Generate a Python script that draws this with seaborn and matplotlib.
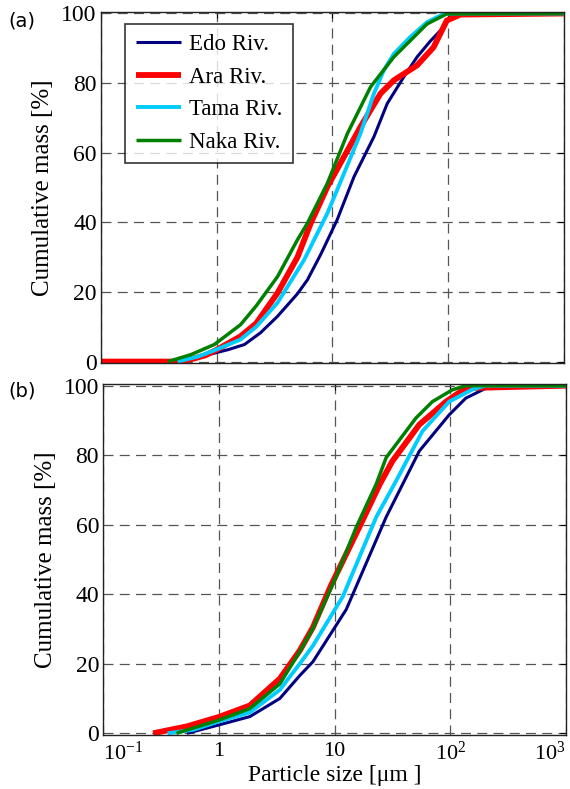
import numpy as np
import pandas as pd
import matplotlib
matplotlib.use("Agg")
import matplotlib.pyplot as plt
import seaborn as sns

# river names, colours and line widths as in the legend
rivers = ["Edo Riv.", "Ara Riv.", "Tama Riv.", "Naka Riv."]
colors = ["#000080", "#ff0000", "#00ccff", "#008000"]
widths = [2.2, 4.2, 2.8, 2.5]

# (a) cumulative mass curves, particle size in um
edo_a_x = [0.48, 0.7, 1.0, 1.25, 1.74, 2.4, 3.36, 5.0, 6.1, 8.0, 11.0, 15.4, 22.9, 29.8, 41.5, 54, 70, 91.8, 104, 136, 1000]
edo_a_y = [0, 1.2, 2.6, 3.4, 4.9, 8.3, 13, 19.5, 23.5, 31, 40.7, 53.1, 64.6, 74.1, 81.8, 87.5, 92, 96.1, 99, 100, 100]
ara_a_x = [0.1, 0.5, 0.64, 0.8, 1.0, 1.6, 2.2, 3.36, 5.0, 6.5, 9.06, 12.6, 17.5, 26.1, 34, 54, 75, 97.7, 128, 1000]
ara_a_y = [0, 0, 0.9, 1.8, 3.4, 7.2, 11, 19.7, 30, 39.7, 50.2, 58.8, 67.4, 77, 80.8, 85.1, 90.3, 98, 99.7, 100]
tama_a_x = [0.46, 0.7, 1.0, 1.6, 2.2, 3.36, 5.7, 9.06, 12.6, 17.5, 22.9, 27.9, 34, 47, 65.9, 91.8, 120, 1000]
tama_a_y = [0, 1.5, 3.5, 6.3, 10, 16.9, 29.2, 42.6, 54, 65.5, 77, 83.7, 88.4, 93.2, 97.5, 99.9, 100, 100]
naka_a_x = [0.38, 0.6, 0.955, 1.61, 2.2, 3.36, 5.0, 6.08, 9.06, 13.5, 21.4, 34, 65.9, 97.7, 1000]
naka_a_y = [0, 2, 4.9, 10.6, 16, 24.4, 35, 39.7, 51.2, 65.5, 78.9, 87.5, 97, 99.9, 100]

# (b)
edo_b_x = [0.53, 1.0, 1.85, 3.36, 5.0, 6.5, 12.6, 27.9, 54, 97.7, 136, 201, 262, 1000]
edo_b_y = [0, 2.4, 4.8, 10, 16.6, 20.6, 35.6, 62.2, 81.2, 91.6, 96.4, 99.2, 100, 100]
ara_b_x = [0.27, 0.53, 1.0, 1.85, 3.36, 5.0, 6.5, 9.3, 16.9, 24.6, 31.6, 54, 91.8, 136, 1000]
ara_b_y = [0, 2, 4.7, 8, 15.7, 23.8, 30.5, 42.5, 60.3, 71.7, 78.3, 88.8, 95.4, 99.3, 100]
tama_b_x = [0.36, 0.6, 1.0, 1.85, 3.36, 5.0, 6.5, 11.8, 22.9, 34, 57.4, 97.7, 155, 200, 1000]
tama_b_y = [0, 1, 3.4, 6, 12.5, 20, 25.2, 39.4, 62.2, 72.6, 86.9, 95.4, 98.9, 100, 100]
naka_b_x = [0.43, 1.0, 1.85, 3.36, 5.0, 6.5, 10.3, 15.4, 22.9, 27.9, 50.5, 70, 104, 136, 1000]
naka_b_y = [0, 3.8, 7.1, 14.2, 23.5, 30.2, 45, 59.3, 71.7, 79.3, 90.7, 95.4, 98.8, 100, 100]

panel_a = [(edo_a_x, edo_a_y), (ara_a_x, ara_a_y), (tama_a_x, tama_a_y), (naka_a_x, naka_a_y)]
panel_b = [(edo_b_x, edo_b_y), (ara_b_x, ara_b_y), (tama_b_x, tama_b_y), (naka_b_x, naka_b_y)]

xticks = [0.1, 1, 10, 100, 1000]
xticklabels = ["10$^{-1}$", "1", "10", "10$^2$", "10$^3$"]
yticks = [0, 20, 40, 60, 80, 100]

sns.set_style("white")
plt.rcParams["font.family"] = ["Liberation Serif", "DejaVu Serif"]
plt.rcParams["mathtext.fontset"] = "custom"
plt.rcParams["mathtext.rm"] = "Liberation Serif"
plt.rcParams["mathtext.it"] = "Liberation Serif"
plt.rcParams["text.color"] = "black"
plt.rcParams["axes.labelcolor"] = "black"
plt.rcParams["xtick.color"] = "black"
plt.rcParams["ytick.color"] = "black"

fig = plt.figure(figsize=(5.7, 7.89), dpi=100)
ax_a = fig.add_axes([0.177, 0.5395, 0.812, 0.4456])
ax_b = fig.add_axes([0.181, 0.0684, 0.812, 0.445])

for ax, data in [(ax_a, panel_a), (ax_b, panel_b)]:
    for (xs, ys), name, c, w in zip(data, rivers, colors, widths):
        df = pd.DataFrame({"size": xs, "mass": ys})
        sns.lineplot(data=df, x="size", y="mass", ax=ax, color=c, lw=w,
                     label=name, solid_capstyle="butt")
    ax.set_xscale("log")
    ax.set_xlim(0.1, 1000)
    ax.set_ylim(-0.5, 100.5)
    ax.set_xticks(xticks)
    ax.set_yticks(yticks)
    ax.minorticks_off()
    ax.grid(True, ls=(0, (8, 5)), color="#555555", lw=0.9)
    ax.tick_params(direction="in", length=4, labelsize=17, pad=3,
                   right=True, top=True)
    for s in ax.spines.values():
        s.set_color("#222222")
        s.set_linewidth(1.0)
    ax.set_ylabel("Cumulative mass [%]", fontsize=18, labelpad=5)
    ax.set_xlabel("")

ax_a.set_xticklabels([])
ax_b.set_xticklabels(xticklabels)
ax_b.tick_params(axis="x", labelsize=16, pad=5)
ax_b.set_xlabel("Particle size [μm ]", fontsize=17, labelpad=0)
ax_b.get_legend().remove()

# end labels sit inside the axis span
tl = ax_b.get_xticklabels()
tl[0].set_horizontalalignment("left")
tl[-1].set_horizontalalignment("right")

leg = ax_a.legend(loc="upper left", bbox_to_anchor=(0.0525, 0.965), fontsize=16.5,
                  frameon=True, fancybox=False, edgecolor="black",
                  handlelength=2.0, handletextpad=0.35, labelspacing=0.5,
                  borderpad=0.45, borderaxespad=0)
leg.get_frame().set_linewidth(1.2)
for t in leg.get_texts():
    t.set_color("black")

fig.text(0.015, 0.967, "(a)", fontsize=14, family=["DejaVu Sans"], color="black")
fig.text(0.015, 0.497, "(b)", fontsize=14, family=["DejaVu Sans"], color="black")

fig.savefig("out.png", dpi=100)
